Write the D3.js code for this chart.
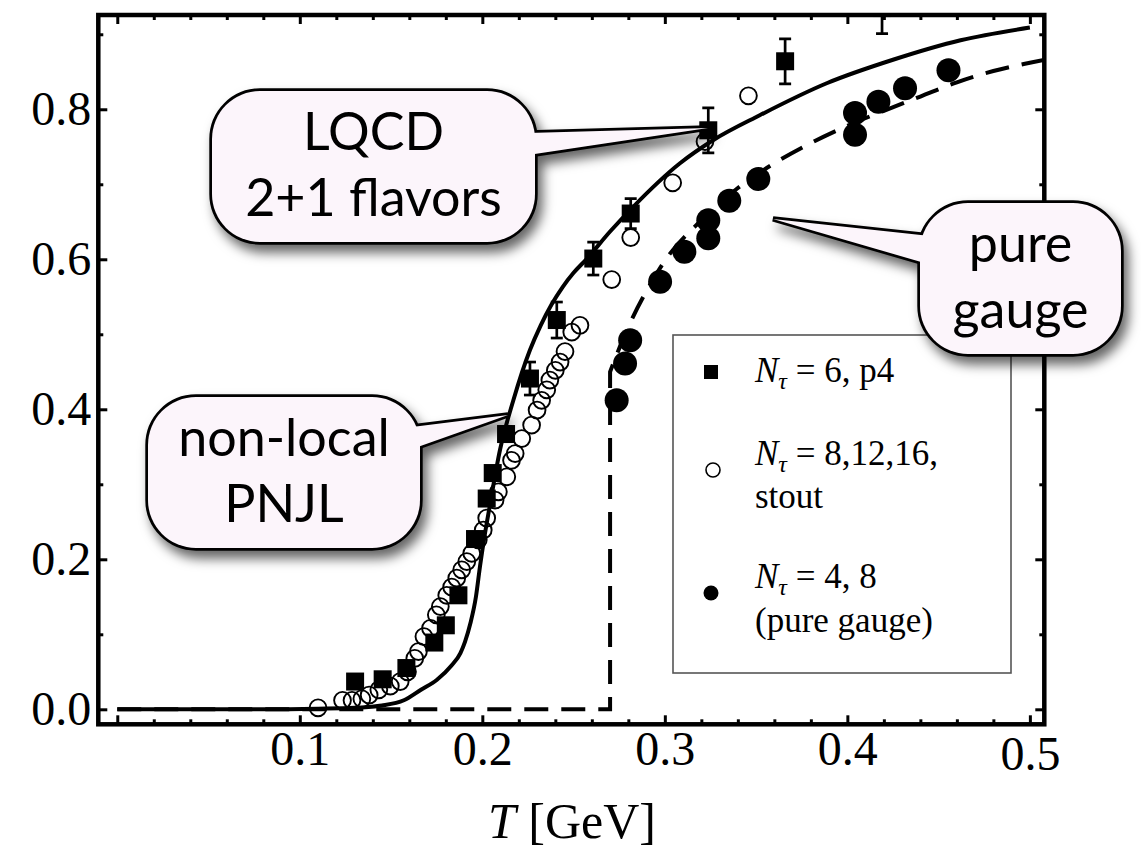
<!DOCTYPE html>
<html>
<head>
<meta charset="utf-8">
<script src="https://cdn.jsdelivr.net/npm/d3@7"></script>
<style>
  body { margin: 0; background: #fff; }
  svg { display: block; }
</style>
</head>
<body>
<svg id="chart" width="1141" height="851"></svg>
<script>
// Polyakov loop versus temperature: non-local PNJL model against lattice QCD

// ---- axis ticks ----
const xMajorTicks = [0, 0.1, 0.2, 0.3, 0.4, 0.5];
const xMajorLabels = ["", "0.1", "0.2", "0.3", "0.4", "0.5"];
const xMinorTicks = [0.02, 0.04, 0.06, 0.08, 0.12, 0.14, 0.16, 0.18, 0.22, 0.24, 0.26, 0.28,
                     0.32, 0.34, 0.36, 0.38, 0.42, 0.44, 0.46, 0.48];
const yMajorTicks = [0, 0.2, 0.4, 0.6, 0.8];
const yMajorLabels = ["0.0", "0.2", "0.4", "0.6", "0.8"];
const yMinorTicks = [0.1, 0.3, 0.5, 0.7, 0.9];

// ---- lattice, N_tau = 6, p4 : [T, value, error] ----
const p4Points = [
  [0.1303, 0.037, 0.005], [0.1454, 0.040, 0.005], [0.1584, 0.055, 0.005],
  [0.1737, 0.089, 0.006], [0.1800, 0.112, 0.006], [0.1869, 0.152, 0.007],
  [0.1960, 0.227, 0.008], [0.2024, 0.281, 0.008], [0.2057, 0.315, 0.009],
  [0.2130, 0.367, 0.010], [0.2261, 0.441, 0.022], [0.2408, 0.519, 0.024],
  [0.2608, 0.601, 0.022], [0.2813, 0.661, 0.020], [0.3238, 0.772, 0.030],
  [0.3659, 0.864, 0.030], [0.4190, 0.935, 0.034]
];

// ---- lattice, N_tau = 8,12,16, stout : [T, value] ----
const stoutPoints = [
  [0.110, 0.002], [0.1234, 0.012], [0.1286, 0.012], [0.134, 0.014], [0.138, 0.019],
  [0.1433, 0.026], [0.1496, 0.031], [0.155, 0.037], [0.159, 0.050], [0.163, 0.068],
  [0.165, 0.077], [0.168, 0.097], [0.1716, 0.108], [0.1748, 0.126], [0.177, 0.137],
  [0.1805, 0.152], [0.1832, 0.163], [0.186, 0.175], [0.1887, 0.186], [0.1915, 0.197],
  [0.1942, 0.208], [0.1978, 0.226], [0.2005, 0.239], [0.2024, 0.255], [0.207, 0.279],
  [0.2088, 0.290], [0.2134, 0.310], [0.216, 0.332], [0.218, 0.341], [0.2216, 0.361],
  [0.227, 0.379], [0.230, 0.399], [0.2325, 0.412], [0.2353, 0.426], [0.237, 0.439],
  [0.240, 0.452], [0.2426, 0.463], [0.2453, 0.477], [0.249, 0.503], [0.2535, 0.512],
  [0.2709, 0.573], [0.2813, 0.629], [0.3043, 0.702], [0.322, 0.757], [0.3458, 0.818]
];

// ---- lattice, N_tau = 4, 8, pure gauge : [T, value] ----
const gaugePoints = [
  [0.2736, 0.412], [0.2782, 0.461], [0.2810, 0.492], [0.2974, 0.570], [0.3107, 0.610],
  [0.3238, 0.628], [0.3238, 0.652], [0.3353, 0.678], [0.3512, 0.707], [0.4042, 0.766],
  [0.4042, 0.795], [0.4170, 0.810], [0.4316, 0.828], [0.4554, 0.852]
];

// ---- non-local PNJL curve (solid) ----
const pnjlCurve = [
  [0, 0], [0.08, 0], [0.11, 0.0008], [0.13, 0.002], [0.145, 0.005], [0.157, 0.012],
  [0.1664, 0.026], [0.175, 0.039], [0.183, 0.058], [0.188, 0.075], [0.1905, 0.090],
  [0.1935, 0.115], [0.1965, 0.150], [0.1987, 0.190], [0.2015, 0.235], [0.204, 0.270],
  [0.2097, 0.346], [0.217, 0.412], [0.2261, 0.479], [0.232, 0.512], [0.238, 0.540],
  [0.244, 0.563], [0.250, 0.582], [0.257, 0.600], [0.270, 0.637],
  [0.2827, 0.670], [0.3083, 0.728], [0.3266, 0.759], [0.352, 0.792], [0.389, 0.835],
  [0.425, 0.866], [0.462, 0.892], [0.5, 0.909]
];

// ---- pure gauge curve (dashed): flat part up to the jump, then the rise ----
const gaugeCurveLow = [[0, 0], [0.27, 0], [0.27, 0.45]];
const gaugeCurveHigh = [
  [0.27, 0.45], [0.28, 0.51], [0.29, 0.558], [0.30, 0.598], [0.32, 0.652], [0.34, 0.695],
  [0.36, 0.728], [0.38, 0.755], [0.40, 0.778], [0.42, 0.798], [0.44, 0.817],
  [0.46, 0.836], [0.48, 0.851], [0.50, 0.862], [0.51, 0.867]
];

const legendEntries = [
  { sym: "square", lines: [["N", "τ", " = 6, p4"]] },
  { sym: "open",   lines: [["N", "τ", " = 8,12,16,"], ["", "", "stout"]] },
  { sym: "filled", lines: [["N", "τ", " = 4, 8"], ["", "", "(pure gauge)"]] }
];

const callouts = [
  { lines: ["LQCD", "2+1 flavors"], box: [212, 91, 535, 242], base: [[528, 133], [528, 155]], tip: [708, 128] },
  { lines: ["non-local", "PNJL"], box: [148, 397, 420, 548], base: [[412, 427], [412, 449]], tip: [508, 415] },
  { lines: ["pure", "gauge"], box: [920, 203, 1121, 354], base: [[930, 236], [928, 264]], tip: [773, 219] }
];

// ---- layout ----
const frame = { left: 98.3, right: 1044.3, top: 15, bottom: 724.3 };
const svg = d3.select("#chart");

const x = d3.scaleLinear().domain([-0.0104, 0.5079]).range([frame.left, frame.right]);
const y = d3.scaleLinear().domain([-0.02, 0.9257]).range([frame.bottom, frame.top]);

const defs = svg.append("defs");
defs.append("clipPath").attr("id", "plotClip")
  .append("rect")
  .attr("x", frame.left).attr("y", frame.top)
  .attr("width", frame.right - frame.left).attr("height", frame.bottom - frame.top);

const shadow = defs.append("filter").attr("id", "bubbleShadow")
  .attr("x", "-20%").attr("y", "-20%").attr("width", "150%").attr("height", "150%");
shadow.append("feDropShadow")
  .attr("dx", 5).attr("dy", 8).attr("stdDeviation", 6)
  .attr("flood-color", "#000").attr("flood-opacity", 0.6);

// ---- axes (ticks drawn inward on all four sides) ----
const tickFont = "'Liberation Serif', 'Times New Roman', serif";

function styleAxis(g) {
  g.select(".domain").remove();
  g.selectAll(".tick line").attr("stroke", "#000").attr("stroke-width", 3);
  g.selectAll(".tick text")
    .attr("fill", "#000")
    .attr("font-family", tickFont)
    .attr("font-size", 48);
}

svg.append("g").attr("transform", `translate(0,${frame.bottom})`)
  .call(d3.axisBottom(x).tickValues(xMajorTicks).tickSize(-9).tickPadding(7)
    .tickFormat((d, i) => xMajorLabels[i]))
  .call(styleAxis)
  .call(g => g.selectAll(".tick").filter(d => d === 0.5).select("text").attr("y", 12));

svg.append("g").attr("transform", `translate(0,${frame.bottom})`)
  .call(d3.axisBottom(x).tickValues(xMinorTicks).tickSize(-5).tickFormat(""))
  .call(styleAxis);

svg.append("g").attr("transform", `translate(0,${frame.top})`)
  .call(d3.axisTop(x).tickValues(xMajorTicks).tickSize(-9).tickFormat(""))
  .call(styleAxis);
svg.append("g").attr("transform", `translate(0,${frame.top})`)
  .call(d3.axisTop(x).tickValues(xMinorTicks).tickSize(-5).tickFormat(""))
  .call(styleAxis);

svg.append("g").attr("transform", `translate(${frame.left},0)`)
  .call(d3.axisLeft(y).tickValues(yMajorTicks).tickSize(-9).tickPadding(7)
    .tickFormat((d, i) => yMajorLabels[i]))
  .call(styleAxis);
svg.append("g").attr("transform", `translate(${frame.left},0)`)
  .call(d3.axisLeft(y).tickValues(yMinorTicks).tickSize(-5).tickFormat(""))
  .call(styleAxis);

svg.append("g").attr("transform", `translate(${frame.right},0)`)
  .call(d3.axisRight(y).tickValues(yMajorTicks).tickSize(-9).tickFormat(""))
  .call(styleAxis);
svg.append("g").attr("transform", `translate(${frame.right},0)`)
  .call(d3.axisRight(y).tickValues(yMinorTicks).tickSize(-5).tickFormat(""))
  .call(styleAxis);

// axis title
svg.append("text")
  .attr("x", 572).attr("y", 838)
  .attr("text-anchor", "middle")
  .attr("font-family", tickFont)
  .attr("font-size", 50)
  .call(t => {
    t.append("tspan").attr("font-style", "italic").text("T");
    t.append("tspan").text(" [GeV]");
  });

// ---- plot contents ----
const plot = svg.append("g").attr("clip-path", "url(#plotClip)");

const smoothLine = d3.line().x(d => x(d[0])).y(d => y(d[1])).curve(d3.curveMonotoneX);
const straight = d3.line().x(d => x(d[0])).y(d => y(d[1]));

plot.append("path")
  .attr("d", straight(gaugeCurveLow) + smoothLine(gaugeCurveHigh).replace(/^M/, "L"))
  .attr("fill", "none").attr("stroke", "#000").attr("stroke-width", 4)
  .attr("stroke-dasharray", "24 13");

plot.append("path")
  .attr("d", smoothLine(pnjlCurve))
  .attr("fill", "none").attr("stroke", "#000").attr("stroke-width", 4);

// open circles
plot.append("g").selectAll("circle").data(stoutPoints).join("circle")
  .attr("cx", d => x(d[0])).attr("cy", d => y(d[1])).attr("r", 8.4)
  .attr("fill", "none").attr("stroke", "#000").attr("stroke-width", 1.9);

// squares with error bars
const sq = 18, cap = 6;
const p4g = plot.append("g").selectAll("g").data(p4Points).join("g");
p4g.append("line")
  .attr("x1", d => x(d[0])).attr("x2", d => x(d[0]))
  .attr("y1", d => y(d[1] + d[2])).attr("y2", d => y(d[1] - d[2]))
  .attr("stroke", "#000").attr("stroke-width", 2.7);
p4g.selectAll("line.cap").data(d => [[d[0], d[1] + d[2]], [d[0], d[1] - d[2]]]).join("line")
  .attr("class", "cap")
  .attr("x1", d => x(d[0]) - cap).attr("x2", d => x(d[0]) + cap)
  .attr("y1", d => y(d[1])).attr("y2", d => y(d[1]))
  .attr("stroke", "#000").attr("stroke-width", 2.7);
p4g.append("rect")
  .attr("x", d => x(d[0]) - sq / 2).attr("y", d => y(d[1]) - sq / 2)
  .attr("width", sq).attr("height", sq).attr("fill", "#000");

// filled circles
plot.append("g").selectAll("circle").data(gaugePoints).join("circle")
  .attr("cx", d => x(d[0])).attr("cy", d => y(d[1])).attr("r", 12)
  .attr("fill", "#000");

// ---- frame ----
svg.append("rect")
  .attr("x", frame.left).attr("y", frame.top)
  .attr("width", frame.right - frame.left).attr("height", frame.bottom - frame.top)
  .attr("fill", "none").attr("stroke", "#000").attr("stroke-width", 4.5);

// ---- legend ----
const legend = svg.append("g");
legend.append("rect")
  .attr("x", 673).attr("y", 335).attr("width", 338).attr("height", 338)
  .attr("fill", "#fff").attr("stroke", "#555").attr("stroke-width", 1.6);

const legendRows = [
  { mark: [711, 372], baselines: [382] },
  { mark: [713, 470], baselines: [465, 508] },
  { mark: [711, 593], baselines: [588, 632] }
];
legendEntries.forEach((e, i) => {
  const r = legendRows[i];
  if (e.sym === "square") {
    legend.append("rect").attr("x", r.mark[0] - 7).attr("y", r.mark[1] - 7)
      .attr("width", 14).attr("height", 14).attr("fill", "#000");
  } else if (e.sym === "open") {
    legend.append("circle").attr("cx", r.mark[0]).attr("cy", r.mark[1]).attr("r", 7)
      .attr("fill", "none").attr("stroke", "#000").attr("stroke-width", 1.6);
  } else {
    legend.append("circle").attr("cx", r.mark[0]).attr("cy", r.mark[1]).attr("r", 7.5)
      .attr("fill", "#000");
  }
  e.lines.forEach((ln, j) => {
    const t = legend.append("text")
      .attr("x", 755).attr("y", r.baselines[j])
      .attr("font-family", tickFont).attr("font-size", 35).attr("fill", "#000");
    if (ln[0]) {
      t.append("tspan").attr("font-style", "italic").text(ln[0]);
      t.append("tspan").attr("font-style", "italic").attr("font-size", 24).attr("dy", 7).text(ln[1]);
      t.append("tspan").attr("dy", -7).text(ln[2]);
    } else {
      t.text(ln[2]);
    }
  });
});

// ---- speech-bubble annotations ----
const bubbleFill = "#fcf5fb";
callouts.forEach(c => {
  const [x0, y0, x1, y1] = c.box;
  const g = svg.append("g").attr("filter", "url(#bubbleShadow)");
  const wedge = [c.base[0], c.tip, c.base[1]];
  const wedgePath = "M" + wedge.map(p => p.join(",")).join("L") + "Z";
  const addRect = (stroke) => g.append("rect")
    .attr("x", x0).attr("y", y0).attr("width", x1 - x0).attr("height", y1 - y0)
    .attr("rx", 48).attr("ry", 48)
    .attr("fill", bubbleFill)
    .attr("stroke", stroke ? "#000" : "none").attr("stroke-width", 5.4)
    .attr("stroke-linejoin", "round");
  const addWedge = (stroke) => g.append("path").attr("d", wedgePath)
    .attr("fill", bubbleFill)
    .attr("stroke", stroke ? "#000" : "none").attr("stroke-width", 5.4)
    .attr("stroke-linejoin", "miter");
  addRect(true); addWedge(true); addRect(false); addWedge(false);

  const cx = (x0 + x1) / 2;
  c.lines.forEach((txt, j) => {
    g.append("text")
      .attr("x", cx).attr("y", y0 + 59 + j * 66)
      .attr("text-anchor", "middle")
      .attr("font-family", "Lato, 'Open Sans', sans-serif")
      .attr("font-size", 52).attr("fill", "#000")
      .text(txt);
  });
});
</script>
</body>
</html>
